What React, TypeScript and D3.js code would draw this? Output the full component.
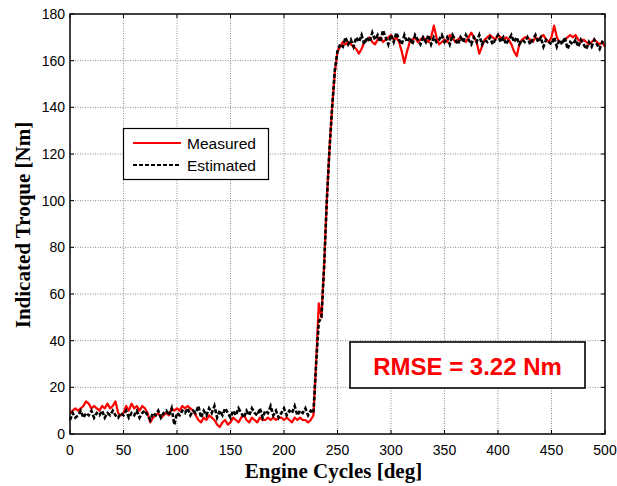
import React from 'react';
import * as d3 from 'd3';

// sampled every 2.5 engine cycles, 0..500
const step = 2.5;

const measured = [
  9, 10, 11, 10, 11, 12, 14, 13, 11, 12,
  11, 10, 12, 11, 13, 11, 12, 14, 9, 8,
  9, 12, 10, 13, 11, 12, 10, 12, 11, 9,
  5, 7, 8, 9, 7, 8, 9, 8, 11, 10,
  11, 10, 12, 11, 12, 11, 10, 8, 6, 5,
  7, 6, 8, 7, 6, 4, 3, 5, 6, 4,
  5, 7, 6, 5, 7, 8, 6, 5, 7, 6,
  5, 7, 6, 6, 7, 6, 7, 6, 7, 7,
  6, 7, 6, 5, 7, 6, 7, 6, 6, 5,
  6, 8, 30, 56, 50, 72, 100, 122, 140, 155,
  164, 166, 168, 167, 168, 167, 166, 165, 163, 165,
  168, 169, 170, 168, 167, 169, 170, 168, 169, 170,
  171, 169, 170, 168, 164, 159, 164, 168, 169, 170,
  168, 169, 170, 169, 168, 170, 175, 170, 167, 168,
  169, 168, 171, 170, 168, 169, 170, 169, 168, 170,
  172, 170, 168, 163, 166, 169, 170, 171, 170, 169,
  171, 170, 169, 170, 169, 167, 164, 162, 167, 169,
  170, 170, 169, 168, 170, 169, 170, 171, 169, 168,
  170, 175, 170, 168, 168, 169, 170, 171, 170, 171,
  169, 168, 169, 168, 167, 168, 169, 168, 167, 168,
  166,
];

const estimated = [
  6, 9, 7, 8, 10, 7, 9, 8, 10, 7,
  9, 8, 10, 7, 9, 8, 10, 8, 7, 9,
  8, 10, 7, 9, 8, 10, 7, 9, 10, 8,
  6, 9, 8, 10, 7, 9, 10, 8, 11, 4,
  9, 8, 10, 9, 11, 8, 10, 9, 12, 7,
  10, 8, 11, 9, 12, 7, 10, 8, 11, 9,
  7, 10, 8, 11, 9, 7, 10, 8, 11, 9,
  8, 11, 7, 10, 9, 12, 8, 10, 7, 9,
  11, 8, 10, 9, 12, 8, 10, 9, 11, 8,
  10, 9, 30, 48, 50, 72, 100, 122, 140, 156,
  164, 167, 166, 170, 167, 169, 166, 170, 168, 171,
  167, 170, 168, 172, 169, 171, 168, 173, 170, 167,
  171, 168, 172, 169, 167, 171, 168, 170, 167, 171,
  169, 167, 170, 168, 171, 167, 170, 168, 169, 171,
  168, 170, 167, 171, 169, 167, 170, 168, 171, 169,
  167, 170, 168, 171, 167, 169, 168, 170, 167, 169,
  171, 168, 170, 167, 169, 171, 168, 170, 167, 169,
  168, 170, 167, 169, 171, 168, 170, 166, 169, 168,
  167, 170, 166, 169, 167, 170, 165, 168, 167, 169,
  166, 169, 167, 165, 168, 166, 169, 167, 165, 168,
  167,
];

const xTicks = [0, 50, 100, 150, 200, 250, 300, 350, 400, 450, 500];
const yTicks = [0, 20, 40, 60, 80, 100, 120, 140, 160, 180];

const W = 617;
const H = 486;
const m = { left: 70, right: 12, top: 14, bottom: 52 };

const App = () => {
  const x = d3.scaleLinear().domain([0, 500]).range([m.left, W - m.right]);
  const y = d3.scaleLinear().domain([0, 180]).range([H - m.bottom, m.top]);

  const line = d3.line<number>()
    .x((d, i) => x(i * step))
    .y(d => y(d));

  const x0 = x(0), x1 = x(500), y0 = y(0), y1 = y(180);
  const tk = 4;
  const sans = 'Arial, "Liberation Sans", Helvetica, sans-serif';
  const serif = '"Times New Roman", "Liberation Serif", Times, serif';

  return (
    <svg width={W} height={H} style={{ position: 'absolute', left: 0, top: 0, background: '#fff' }}>
      <rect x={0} y={0} width={W} height={H} fill="#fff" />
      {/* grid */}
      <g stroke="#8a8a8a" strokeWidth={1} strokeDasharray="1,1.5">
        {xTicks.slice(1, -1).map(t => (
          <line key={'gx' + t} x1={x(t)} x2={x(t)} y1={y0} y2={y1} />
        ))}
        {yTicks.slice(1, -1).map(t => (
          <line key={'gy' + t} x1={x0} x2={x1} y1={y(t)} y2={y(t)} />
        ))}
      </g>
      {/* ticks */}
      <g stroke="#000" strokeWidth={1}>
        {xTicks.map(t => (
          <g key={'tx' + t}>
            <line x1={x(t)} x2={x(t)} y1={y0} y2={y0 - tk} />
            <line x1={x(t)} x2={x(t)} y1={y1} y2={y1 + tk} />
          </g>
        ))}
        {yTicks.map(t => (
          <g key={'ty' + t}>
            <line x1={x0} x2={x0 + tk} y1={y(t)} y2={y(t)} />
            <line x1={x1} x2={x1 - tk} y1={y(t)} y2={y(t)} />
          </g>
        ))}
      </g>
      {/* series */}
      <path d={line(measured) || ''} fill="none" stroke="#ff0000" strokeWidth={2.2} strokeLinejoin="round" />
      <path d={line(estimated) || ''} fill="none" stroke="#000" strokeWidth={2.6} strokeDasharray="4,2" />
      {/* axes box */}
      <rect x={x0} y={y1} width={x1 - x0} height={y0 - y1} fill="none" stroke="#000" strokeWidth={1.5} />
      {/* tick labels */}
      <g fontFamily={sans} fontSize={14} fill="#000">
        {xTicks.map(t => (
          <text key={'lx' + t} x={x(t)} y={y0 + 21} textAnchor="middle">{t}</text>
        ))}
        {yTicks.map(t => (
          <text key={'ly' + t} x={x0 - 5} y={y(t) + 5} textAnchor="end">{t}</text>
        ))}
      </g>
      {/* axis titles */}
      <text x={(x0 + x1) / 2 - 4} y={478} textAnchor="middle" fontFamily={serif} fontWeight="bold" fontSize={21}>
        Engine Cycles [deg]
      </text>
      <text transform={`translate(30,${(y0 + y1) / 2 + 1}) rotate(-90)`} textAnchor="middle" fontFamily={serif} fontWeight="bold" fontSize={21}>
        Indicated Troque [Nm]
      </text>
      {/* legend */}
      <g>
        <rect x={123.5} y={128.5} width={145} height={51} fill="#fff" stroke="#000" strokeWidth={1.2} />
        <line x1={133} x2={181} y1={143} y2={143} stroke="#ff0000" strokeWidth={2.2} />
        <line x1={133} x2={181} y1={165} y2={165} stroke="#000" strokeWidth={2.2} strokeDasharray="4,2" />
        <text x={187} y={148.5} fontFamily={sans} fontSize={15.5}>Measured</text>
        <text x={187} y={170.5} fontFamily={sans} fontSize={15.5}>Estimated</text>
      </g>
      {/* RMSE box */}
      <g>
        <rect x={350} y={342} width={235} height={46} fill="#fff" stroke="#000" strokeWidth={1.6} />
        <text x={467.5} y={375} textAnchor="middle" fontFamily={sans} fontWeight="bold" fontSize={24} fill="#ff0000">
          RMSE = 3.22 Nm
        </text>
      </g>
    </svg>
  );
};

export default App;
